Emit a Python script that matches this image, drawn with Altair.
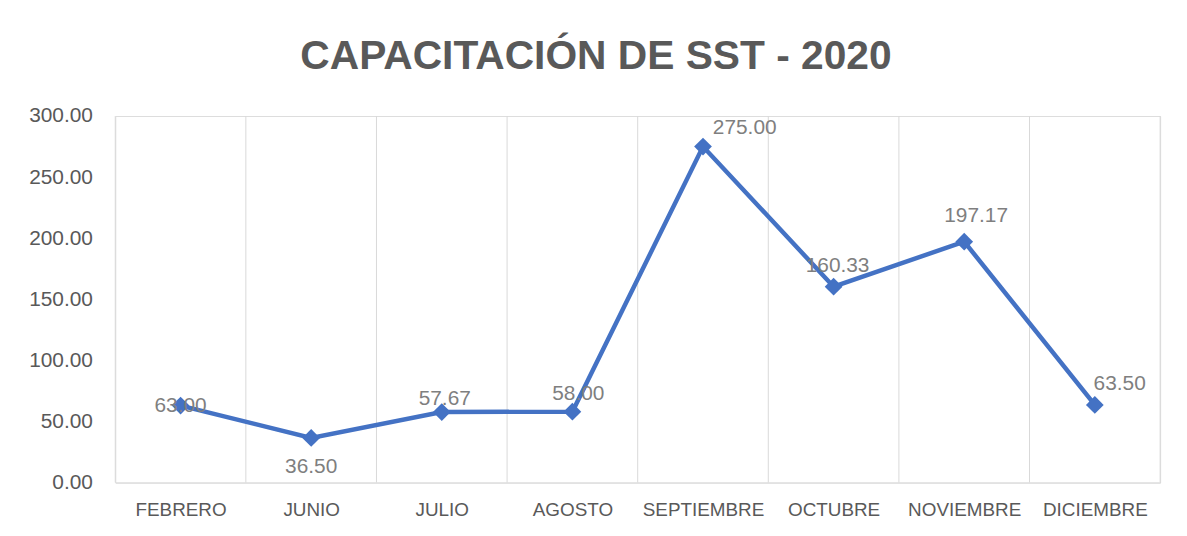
import json
import altair as alt
import pandas as pd

months = ["FEBRERO", "JUNIO", "JULIO", "AGOSTO", "SEPTIEMBRE", "OCTUBRE", "NOVIEMBRE", "DICIEMBRE"]
values = [63.00, 36.50, 57.67, 58.00, 275.00, 160.33, 197.17, 63.50]
y_ticks = [0, 50, 100, 150, 200, 250, 300]
title_text = "CAPACITACIÓN DE SST - 2020"

df = pd.DataFrame({
    "mes": months,
    "valor": values,
    "pos": [i + 0.5 for i in range(len(months))],
})
bounds = pd.DataFrame({"pos": list(range(len(months) + 1))})

# label offsets (dx, dy) in pixels, per month
label_offsets = {
    "FEBRERO": (0, 0),
    "JUNIO": (0, 29),
    "JULIO": (3, -13),
    "AGOSTO": (6, -18),
    "SEPTIEMBRE": (42, -19),
    "OCTUBRE": (4, -21),
    "NOVIEMBRE": (12, -26),
    "DICIEMBRE": (25, -21),
}

FONT = "Liberation Sans"
GRID = "#d9d9d9"
TXT = "#595959"
BLUE = "#4472C4"

x_scale = alt.Scale(domain=[0, len(months)], nice=False, zero=False)
y_scale = alt.Scale(domain=[0, 300], nice=False)

label_expr = json.dumps(months) + "[floor(datum.value)]"

x_axis = alt.Axis(
    values=[i + 0.5 for i in range(len(months))],
    labelExpr=label_expr,
    grid=False,
    ticks=False,
    domain=True,
    domainColor=GRID,
    domainWidth=1,
    labelFont=FONT,
    labelFontSize=19,
    labelColor=TXT,
    labelPadding=18,
    title=None,
)
x_enc = alt.X("pos:Q", scale=x_scale, axis=x_axis)
y_enc = alt.Y(
    "valor:Q",
    scale=y_scale,
    axis=alt.Axis(
        values=y_ticks,
        format=".2f",
        grid=False,
        ticks=False,
        domain=False,
        labelFont=FONT,
        labelFontSize=21,
        labelColor=TXT,
        labelPadding=23,
        title=None,
    ),
)

grid = alt.Chart(bounds).mark_rule(color=GRID, strokeWidth=1).encode(x=x_enc)

line = alt.Chart(df).mark_line(color=BLUE, strokeWidth=4.5).encode(x=x_enc, y=y_enc)
points = alt.Chart(df).mark_point(
    shape="diamond", filled=True, size=320, color=BLUE, opacity=1
).encode(x=x_enc, y=y_enc)

texts = []
for m, (dx, dy) in label_offsets.items():
    texts.append(
        alt.Chart(df)
        .transform_filter(alt.datum.mes == m)
        .mark_text(
            font=FONT, fontSize=21, color="#7f7f7f", align="center",
            baseline="middle", dx=dx, dy=dy,
        )
        .encode(
            x=x_enc,
            y=y_enc,
            text=alt.Text("valor:Q", format=".2f"),
        )
    )

chart = alt.layer(grid, line, points, *texts).properties(
    width=1052,
    height=369,
    title=alt.TitleParams(
        text=title_text,
        font=FONT,
        fontSize=41,
        fontWeight="bold",
        color=TXT,
        anchor="middle",
        dx=-42,
        offset=27,
    ),
    autosize=alt.AutoSizeParams(type="none"),
    padding={"left": 108, "top": 107, "right": 19, "bottom": 40},
).configure_view(stroke=None).configure(background="white")

chart.save("out.html", embed_options={"renderer": "svg", "actions": False})
